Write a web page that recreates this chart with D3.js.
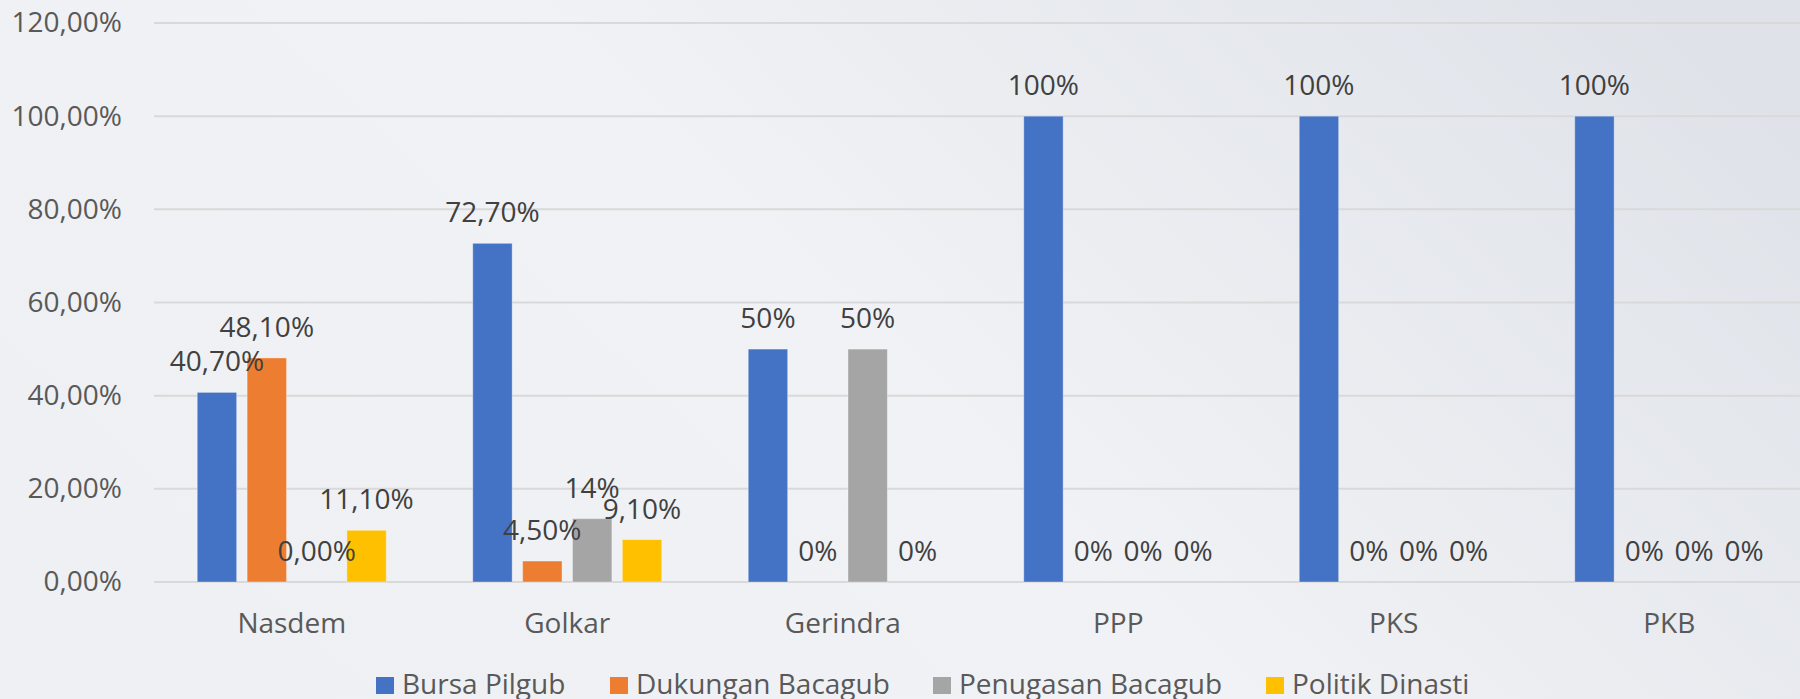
<!DOCTYPE html>
<html>
<head>
<meta charset="utf-8">
<script src="https://cdn.jsdelivr.net/npm/d3@7"></script>
<style>
  body { margin: 0; padding: 0; overflow: hidden; }
  svg { display: block; }
</style>
</head>
<body>
<div id="chart"></div>
<script>
var width = 1800;
var height = 699;

// data
var parties = ["Nasdem", "Golkar", "Gerindra", "PPP", "PKS", "PKB"];
var seriesNames = ["Bursa Pilgub", "Dukungan Bacagub", "Penugasan Bacagub", "Politik Dinasti"];
var bursaPilgub = [0.407, 0.727, 0.5, 1, 1, 1];
var dukunganBacagub = [0.481, 0.045, 0, 0, 0, 0];
var penugasanBacagub = [0, 0.136, 0.5, 0, 0, 0];
var politikDinasti = [0.111, 0.091, 0, 0, 0, 0];
var bursaLabels = ["40,70%", "72,70%", "50%", "100%", "100%", "100%"];
var dukunganLabels = ["48,10%", "4,50%", "0%", "0%", "0%", "0%"];
var penugasanLabels = ["0,00%", "14%", "50%", "0%", "0%", "0%"];
var dinastiLabels = ["11,10%", "9,10%", "0%", "0%", "0%", "0%"];
var yTicks = [0, 0.2, 0.4, 0.6, 0.8, 1.0, 1.2];
var yTickLabels = ["0,00%", "20,00%", "40,00%", "60,00%", "80,00%", "100,00%", "120,00%"];

var colors = ["#4472c4", "#ed7d31", "#a5a5a5", "#ffc000"];
var allValues = [bursaPilgub, dukunganBacagub, penugasanBacagub, politikDinasti];
var allLabels = [bursaLabels, dukunganLabels, penugasanLabels, dinastiLabels];

var rows = [];
for (var i = 0; i < parties.length; ++i) {
  for (var s = 0; s < seriesNames.length; ++s) {
    rows.push({ party: parties[i], series: seriesNames[s], si: s,
                value: allValues[s][i], label: allLabels[s][i] });
  }
}

var fontFamily = "'Open Sans', 'Noto Sans', sans-serif";

var svg = d3.select("#chart")
  .append("svg")
  .attr("width", width)
  .attr("height", height);

// background gradient
var defs = svg.append("defs");
var grad = defs.append("linearGradient")
  .attr("id", "bg")
  .attr("x1", "0%").attr("y1", "60%")
  .attr("x2", "100%").attr("y2", "20%");
grad.append("stop").attr("offset", "0%").attr("stop-color", "#eef0f3");
grad.append("stop").attr("offset", "45%").attr("stop-color", "#f1f2f5");
grad.append("stop").attr("offset", "100%").attr("stop-color", "#dfe3e9");

svg.append("rect")
  .attr("width", width)
  .attr("height", height)
  .attr("fill", "url(#bg)");

// scales
var x0 = d3.scaleBand()
  .domain(parties)
  .range([154, 154 + 6 * 275.5])
  .paddingInner(0.314)
  .paddingOuter(0.157);

var x1 = d3.scaleBand()
  .domain(seriesNames)
  .range([0, x0.bandwidth()])
  .paddingInner(0.21);

var yScale = d3.scaleLinear().domain([0, 1.2]).range([582, 23]);

// gridlines
svg.append("g")
  .selectAll("line")
  .data(yTicks)
  .enter()
  .append("line")
  .attr("x1", 154)
  .attr("x2", width)
  .attr("y1", function (d) { return yScale(d); })
  .attr("y2", function (d) { return yScale(d); })
  .attr("stroke", "#d9d9d9")
  .attr("stroke-width", 2);

// y axis labels
var yAxis = d3.axisLeft(yScale)
  .tickValues(yTicks)
  .tickSize(0)
  .tickPadding(0)
  .tickFormat(function (d, i) { return yTickLabels[i]; });

var yG = svg.append("g")
  .attr("transform", "translate(122,0)")
  .call(yAxis);
yG.select(".domain").remove();
yG.selectAll("text")
  .attr("font-family", fontFamily)
  .attr("font-size", "28px")
  .attr("fill", "#595959");

// bars
var bars = svg.append("g")
  .selectAll("rect")
  .data(rows)
  .enter()
  .append("rect")
  .attr("x", function (d) { return x0(d.party) + x1(d.series); })
  .attr("y", function (d) { return yScale(d.value); })
  .attr("width", x1.bandwidth())
  .attr("height", function (d) { return yScale(0) - yScale(d.value); })
  .attr("fill", function (d) { return colors[d.si]; })
  .attr("stroke", "rgba(255,255,255,0.35)")
  .attr("stroke-width", 1);

// data labels
svg.append("g")
  .selectAll("text")
  .data(rows)
  .enter()
  .append("text")
  .attr("x", function (d) { return x0(d.party) + x1(d.series) + x1.bandwidth() / 2; })
  .attr("y", function (d) { return yScale(d.value) - 21; })
  .attr("text-anchor", "middle")
  .attr("font-family", fontFamily)
  .attr("font-size", "28px")
  .attr("fill", "#404040")
  .text(function (d) { return d.label; });

// x axis labels
var xAxis = d3.axisBottom(x0).tickSize(0).tickPadding(0);
var xG = svg.append("g")
  .attr("transform", "translate(0,633)")
  .call(xAxis);
xG.select(".domain").remove();
xG.selectAll("text")
  .attr("dy", 0)
  .attr("font-family", fontFamily)
  .attr("font-size", "28px")
  .attr("fill", "#595959");

// legend
var legendX = [376, 610, 933, 1266];
var legend = svg.append("g")
  .selectAll("g")
  .data(seriesNames)
  .enter()
  .append("g")
  .attr("transform", function (d, i) { return "translate(" + legendX[i] + ",0)"; });

legend.append("rect")
  .attr("x", 0)
  .attr("y", 677)
  .attr("width", 18)
  .attr("height", 17)
  .attr("fill", function (d, i) { return colors[i]; });

legend.append("text")
  .attr("x", 26)
  .attr("y", 694)
  .attr("font-family", fontFamily)
  .attr("font-size", "28px")
  .attr("fill", "#595959")
  .text(function (d) { return d; });
</script>
</body>
</html>
